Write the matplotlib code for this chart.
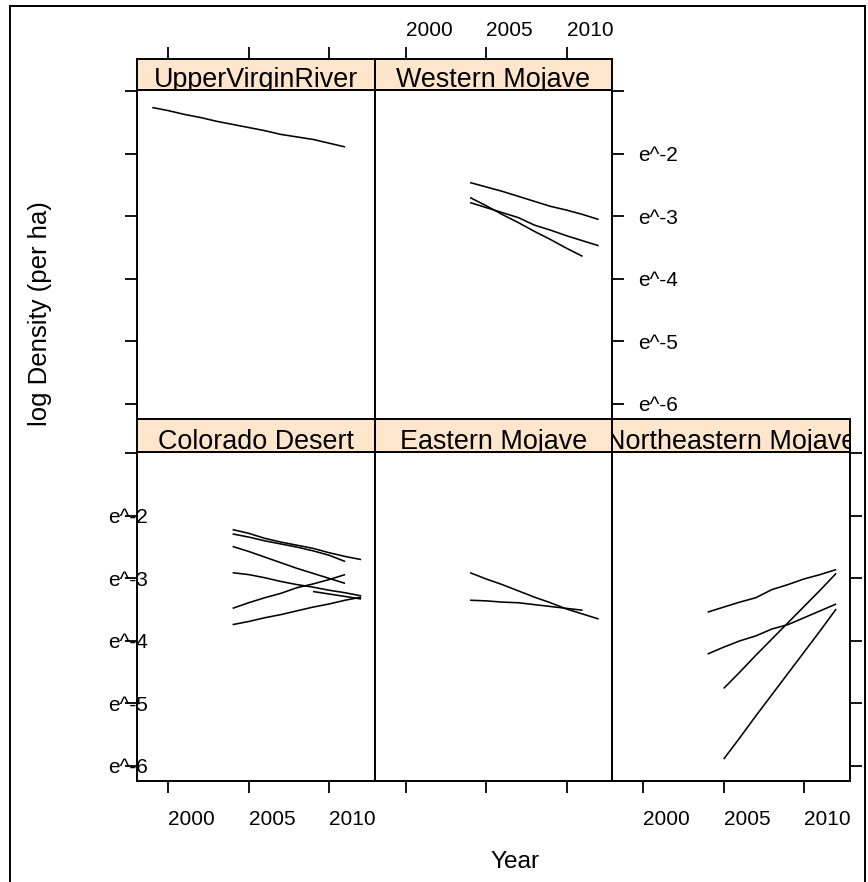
import matplotlib
matplotlib.use('Agg')
import matplotlib.pyplot as plt
from matplotlib.patches import Rectangle

plt.rcParams['font.family'] = ['Liberation Sans', 'DejaVu Sans']

# ---------------- data ----------------
panel_names = ["UpperVirginRiver", "Western Mojave", "Colorado Desert",
               "Eastern Mojave", "Northeastern Mojave"]

x_ticks = [2000, 2005, 2010]
x_tick_labels = ["2000", "2005", "2010"]
y_ticks = [-1, -2, -3, -4, -5, -6]
y_tick_labels = ["", "e^-2", "e^-3", "e^-4", "e^-5", "e^-6"]

# UpperVirginRiver
uvr_years = [1999, 2000, 2001, 2002, 2003, 2004, 2005, 2006, 2007, 2008, 2009, 2010, 2011]
uvr_1 = [-1.26, -1.31, -1.37, -1.42, -1.48, -1.53, -1.58, -1.63, -1.69, -1.73, -1.77, -1.83, -1.89]

# Western Mojave
wm_years_a = [2004, 2005, 2006, 2007, 2008, 2009, 2010, 2011, 2012]
wm_years_b = [2004, 2005, 2006, 2007, 2008, 2009, 2010, 2011]
wm_1 = [-2.46, -2.53, -2.60, -2.68, -2.76, -2.84, -2.90, -2.97, -3.05]
wm_2 = [-2.70, -2.83, -2.97, -3.10, -3.24, -3.37, -3.51, -3.64]
wm_3 = [-2.78, -2.86, -2.94, -3.02, -3.14, -3.22, -3.31, -3.39, -3.47]

# Colorado Desert
cd_years_a = [2004, 2005, 2006, 2007, 2008, 2009, 2010, 2011, 2012]
cd_years_b = [2004, 2005, 2006, 2007, 2008, 2009, 2010, 2011]
cd_years_c = [2009, 2010, 2011, 2012]
cd_1 = [-2.22, -2.28, -2.36, -2.42, -2.47, -2.52, -2.59, -2.65, -2.70]
cd_2 = [-2.29, -2.34, -2.40, -2.45, -2.50, -2.56, -2.63, -2.73]
cd_3 = [-2.49, -2.57, -2.66, -2.75, -2.84, -2.92, -3.00, -3.08]
cd_4 = [-2.91, -2.94, -2.99, -3.05, -3.10, -3.14, -3.19, -3.23, -3.28]
cd_5 = [-3.48, -3.39, -3.31, -3.24, -3.15, -3.09, -3.02, -2.94]
cd_6 = [-3.21, -3.25, -3.29, -3.33]
cd_7 = [-3.74, -3.69, -3.63, -3.58, -3.52, -3.46, -3.41, -3.35, -3.30]

# Eastern Mojave
em_years_a = [2004, 2005, 2006, 2007, 2008, 2009, 2010, 2011, 2012]
em_years_b = [2004, 2005, 2006, 2007, 2008, 2009, 2010, 2011]
em_1 = [-2.91, -3.01, -3.10, -3.20, -3.30, -3.39, -3.49, -3.57, -3.65]
em_2 = [-3.35, -3.36, -3.38, -3.39, -3.42, -3.45, -3.48, -3.51]

# Northeastern Mojave
ne_years_a = [2004, 2005, 2006, 2007, 2008, 2009, 2010, 2011, 2012]
ne_years_b = [2005, 2006, 2007, 2008, 2009, 2010, 2011, 2012]
ne_1 = [-3.54, -3.46, -3.38, -3.31, -3.18, -3.10, -3.01, -2.94, -2.86]
ne_2 = [-4.21, -4.10, -4.00, -3.92, -3.81, -3.74, -3.63, -3.52, -3.41]
ne_3 = [-4.76, -4.50, -4.23, -3.97, -3.71, -3.45, -3.19, -2.92]
ne_4 = [-5.89, -5.55, -5.20, -4.86, -4.52, -4.18, -3.84, -3.49]

panel_lines = {
    "UpperVirginRiver": [(uvr_years, uvr_1)],
    "Western Mojave": [(wm_years_a, wm_1), (wm_years_b, wm_2), (wm_years_a, wm_3)],
    "Colorado Desert": [(cd_years_a, cd_1), (cd_years_b, cd_2), (cd_years_b, cd_3),
                        (cd_years_a, cd_4), (cd_years_b, cd_5), (cd_years_c, cd_6),
                        (cd_years_a, cd_7)],
    "Eastern Mojave": [(em_years_a, em_1), (em_years_b, em_2)],
    "Northeastern Mojave": [(ne_years_a, ne_1), (ne_years_a, ne_2),
                            (ne_years_b, ne_3), (ne_years_b, ne_4)],
}

# ---------------- layout ----------------
W, H, DPI = 868, 882, 100
fig = plt.figure(figsize=(W / DPI, H / DPI), dpi=DPI)

def px_axes(x0, y0, x1, y1):
    return fig.add_axes([x0 / W, 1 - y1 / H, (x1 - x0) / W, (y1 - y0) / H])

cols = [137, 374.5, 612, 849.5]
rows = [(58.5, 90, 419), (419, 452, 781)]  # strip top, panel top, panel bottom
positions = {
    "UpperVirginRiver": (0, 0),
    "Western Mojave": (0, 1),
    "Colorado Desert": (1, 0),
    "Eastern Mojave": (1, 1),
    "Northeastern Mojave": (1, 2),
}

XLIM = (1998.05, 2012.83)
YLIM = (-6.24, -0.98)
LW_BOX = 1.4
TICK_LEN = 8.6
TICK_W = 1.3
TICK_FS = 15
STRIP_FS = 19.4

for name in panel_names:
    r, c = positions[name]
    stop, ptop, pbot = rows[r]
    ax = px_axes(cols[c], ptop, cols[c + 1], pbot)
    sax = px_axes(cols[c], stop, cols[c + 1], ptop)

    for yrs, vals in panel_lines[name]:
        ax.plot(yrs, vals, color='black', lw=1.15, solid_capstyle='butt')

    ax.set_xlim(*XLIM)
    ax.set_ylim(*YLIM)
    sax.set_xlim(*XLIM)
    sax.set_ylim(0, 1)
    sax.set_facecolor('#ffe5cc')
    for a in (ax, sax):
        for sp in a.spines.values():
            sp.set_linewidth(LW_BOX)
            sp.set_color('black')
        a.tick_params(which='both', left=False, right=False, top=False, bottom=False,
                      labelleft=False, labelright=False, labeltop=False, labelbottom=False,
                      direction='out', length=TICK_LEN, width=TICK_W, labelsize=TICK_FS)
    sax.set_yticks([])

    t = sax.text(0.5, 0.09, name, transform=sax.transAxes, ha='center', va='baseline',
                 fontsize=STRIP_FS, clip_on=True)

    ax.set_xticks(x_ticks)
    ax.set_xticklabels(x_tick_labels)
    sax.set_xticks(x_ticks)
    sax.set_xticklabels(x_tick_labels)
    ax.set_yticks(y_ticks)
    ax.set_yticklabels(y_tick_labels)

    # left axis
    if c == 0:
        ax.tick_params(axis='y', left=True, labelleft=(r == 1), pad=12.2)
        for lab in ax.get_yticklabels():
            lab.set_ha('left')
    # right axis
    if (r == 0 and c == 1) or (r == 1 and c == 2):
        ax.tick_params(axis='y', right=True, labelright=(r == 0), pad=10)
    # bottom axis
    if r == 1:
        ax.tick_params(axis='x', bottom=True, labelbottom=(c != 1), pad=12)
        for lab in ax.get_xticklabels():
            lab.set_ha('left')
    # top axis (on strip)
    if r == 0:
        sax.tick_params(axis='x', top=True, labeltop=(c == 1), pad=5)
        for lab in sax.get_xticklabels():
            lab.set_ha('left')

fig.text(40 / W, 1 - 314 / H, "log Density (per ha)", rotation=90, ha='center',
         va='center', fontsize=18.5)
fig.text(515 / W, 1 - 862 / H, "Year", ha='center', va='center', fontsize=17.6)

fig.add_artist(Rectangle((10 / W, 1 - 900 / H), 855 / W, 894 / H,
                         transform=fig.transFigure, fill=False, edgecolor='black',
                         lw=1.4, clip_on=False))

fig.savefig('out.png', dpi=DPI)
